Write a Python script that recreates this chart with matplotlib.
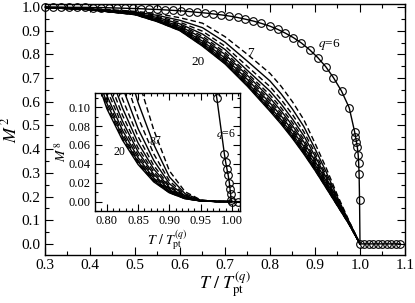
import matplotlib
matplotlib.use("Agg")
import matplotlib.pyplot as plt
from matplotlib.ticker import MultipleLocator, FormatStrFormatter
import numpy as np

plt.rcParams['font.family'] = ['Liberation Serif', 'DejaVu Serif']
plt.rcParams['mathtext.fontset'] = 'stix'

# ---- data ----
# q = 6 (circles)
T_q6 = [0.300, 0.318, 0.336, 0.353, 0.371, 0.389, 0.407, 0.425, 0.442, 0.460,
        0.478, 0.496, 0.514, 0.532, 0.549, 0.567, 0.585, 0.603, 0.621, 0.638,
        0.656, 0.674, 0.692, 0.710, 0.728, 0.745, 0.763, 0.781, 0.799, 0.817,
        0.834, 0.852, 0.870, 0.888, 0.906, 0.924, 0.941, 0.959, 0.976, 0.988,
        0.990, 0.992, 0.994, 0.996, 0.997, 0.998, 0.999, 1.000, 1.010, 1.020,
        1.030, 1.040, 1.050, 1.060, 1.070, 1.080, 1.090]
M2_q6 = [1.000, 1.000, 1.000, 0.999, 0.999, 0.999, 0.998, 0.998, 0.997, 0.996,
         0.995, 0.994, 0.993, 0.991, 0.990, 0.988, 0.986, 0.984, 0.981, 0.978,
         0.975, 0.971, 0.967, 0.962, 0.956, 0.949, 0.941, 0.931, 0.920, 0.906,
         0.890, 0.871, 0.848, 0.820, 0.787, 0.748, 0.702, 0.645, 0.575, 0.474,
         0.453, 0.432, 0.410, 0.376, 0.342, 0.295, 0.186, 0.000, 0.000, 0.000,
         0.000, 0.000, 0.000, 0.000, 0.000, 0.000, 0.000]

# q = 7 ... 20 (lines)
T_grid = [0.30, 0.40, 0.50, 0.55, 0.60, 0.65, 0.70, 0.75, 0.80, 0.825, 0.85,
          0.875, 0.90, 0.925, 0.95, 0.975, 1.00]
M2_q7  = [0.999, 0.995, 0.982, 0.972, 0.955, 0.932, 0.875, 0.800, 0.720, 0.665, 0.600, 0.525, 0.425, 0.320, 0.205, 0.100, 0.0]
M2_q8  = [0.999, 0.993, 0.979, 0.965, 0.944, 0.913, 0.852, 0.771, 0.688, 0.633, 0.569, 0.496, 0.402, 0.303, 0.196, 0.097, 0.0]
M2_q9  = [0.999, 0.992, 0.977, 0.960, 0.936, 0.898, 0.835, 0.749, 0.664, 0.609, 0.546, 0.474, 0.385, 0.290, 0.189, 0.095, 0.0]
M2_q10 = [0.999, 0.992, 0.975, 0.956, 0.929, 0.886, 0.821, 0.732, 0.645, 0.590, 0.527, 0.457, 0.371, 0.280, 0.184, 0.093, 0.0]
M2_q11 = [0.998, 0.991, 0.974, 0.953, 0.924, 0.877, 0.809, 0.720, 0.629, 0.574, 0.512, 0.442, 0.359, 0.272, 0.179, 0.091, 0.0]
M2_q12 = [0.998, 0.991, 0.973, 0.950, 0.919, 0.869, 0.800, 0.711, 0.616, 0.561, 0.499, 0.431, 0.350, 0.265, 0.176, 0.090, 0.0]
M2_q13 = [0.998, 0.990, 0.972, 0.948, 0.915, 0.862, 0.792, 0.702, 0.605, 0.550, 0.488, 0.421, 0.342, 0.259, 0.173, 0.089, 0.0]
M2_q14 = [0.998, 0.990, 0.971, 0.945, 0.912, 0.856, 0.785, 0.694, 0.595, 0.540, 0.479, 0.412, 0.335, 0.254, 0.170, 0.088, 0.0]
M2_q15 = [0.998, 0.990, 0.970, 0.944, 0.909, 0.851, 0.780, 0.687, 0.587, 0.532, 0.471, 0.405, 0.330, 0.249, 0.168, 0.088, 0.0]
M2_q16 = [0.998, 0.990, 0.970, 0.942, 0.907, 0.847, 0.774, 0.680, 0.579, 0.524, 0.464, 0.397, 0.324, 0.245, 0.165, 0.087, 0.0]
M2_q17 = [0.998, 0.989, 0.969, 0.941, 0.904, 0.843, 0.769, 0.675, 0.573, 0.518, 0.457, 0.392, 0.319, 0.242, 0.164, 0.086, 0.0]
M2_q18 = [0.998, 0.989, 0.969, 0.940, 0.903, 0.840, 0.766, 0.671, 0.568, 0.513, 0.453, 0.387, 0.316, 0.239, 0.162, 0.086, 0.0]
M2_q19 = [0.998, 0.989, 0.968, 0.939, 0.901, 0.837, 0.762, 0.668, 0.563, 0.508, 0.448, 0.383, 0.312, 0.237, 0.161, 0.085, 0.0]
M2_q20 = [0.998, 0.989, 0.968, 0.938, 0.900, 0.835, 0.760, 0.665, 0.560, 0.505, 0.445, 0.380, 0.310, 0.235, 0.160, 0.085, 0.0]

q_values = [7, 8, 9, 10, 11, 12, 13, 14, 15, 16, 17, 18, 19, 20]
M2_lines = [M2_q7, M2_q8, M2_q9, M2_q10, M2_q11, M2_q12, M2_q13,
            M2_q14, M2_q15, M2_q16, M2_q17, M2_q18, M2_q19, M2_q20]

x_ticks_main = [0.3, 0.4, 0.5, 0.6, 0.7, 0.8, 0.9, 1.0, 1.1]
y_ticks_main = [0.0, 0.1, 0.2, 0.3, 0.4, 0.5, 0.6, 0.7, 0.8, 0.9, 1.0]
x_ticks_inset = [0.80, 0.85, 0.90, 0.95, 1.00]
y_ticks_inset = [0.00, 0.02, 0.04, 0.06, 0.08, 0.10]

# ---- figure ----
fig = plt.figure(figsize=(4.15, 3.03), dpi=100)
ax = fig.add_axes([0.1084, 0.1584, 0.8675, 0.8284])
axi = fig.add_axes([0.2289, 0.3036, 0.3494, 0.3894])

dash = (0, (4, 2.2))

def style_axes(a, fs, major_len, minor_len):
    a.tick_params(which='both', direction='in', top=True, right=True,
                  labelsize=fs, width=0.8, pad=3)
    a.tick_params(which='major', length=major_len)
    a.tick_params(which='minor', length=minor_len)
    for s in a.spines.values():
        s.set_linewidth(1.0)

# main
for q, m2 in zip(q_values, M2_lines):
    ls = dash if q % 2 == 1 else '-'
    ax.plot(T_grid, m2, color='black', lw=1.0, linestyle=ls)
ax.plot(T_q6, M2_q6, color='black', lw=1.0, marker='o', ms=5.5,
        mfc='none', mec='black', mew=0.8, clip_on=False, zorder=5)

ax.set_xlim(0.3, 1.1)
ax.set_ylim(-0.047, 1.013)
ax.set_xticks(x_ticks_main)
ax.set_yticks(y_ticks_main)
ax.xaxis.set_minor_locator(MultipleLocator(0.05))
ax.yaxis.set_minor_locator(MultipleLocator(0.05))
ax.xaxis.set_major_formatter(FormatStrFormatter('%.1f'))
ax.yaxis.set_major_formatter(FormatStrFormatter('%.1f'))
style_axes(ax, 11, 6, 3)
ax.set_xlabel(r'$T\ /\ T_{\rm pt}^{(q)}$', fontsize=13, labelpad=-1)
ax.set_ylabel(r'$M^{\,2}$', fontsize=13, labelpad=1)

ax.text(0.907, 0.84, r'$q$=6', fontsize=9.5, ha='left', va='center')
ax.text(0.756, 0.806, '7', fontsize=9.5, ha='center', va='center')
ax.text(0.640, 0.768, '20', fontsize=9.5, ha='center', va='center')

# inset
for q, m2 in zip(q_values, M2_lines):
    ls = dash if q % 2 == 1 else '-'
    axi.plot(T_grid, np.array(m2) ** 4, color='black', lw=1.0, linestyle=ls)
axi.plot(T_q6, np.array(M2_q6) ** 4, color='black', lw=1.0, marker='o', ms=5.5,
         mfc='none', mec='black', mew=0.8, zorder=5)
axi.set_xlim(0.781, 1.013)
axi.set_ylim(-0.01, 0.115)
axi.set_xticks(x_ticks_inset)
axi.set_yticks(y_ticks_inset)
axi.xaxis.set_minor_locator(MultipleLocator(0.01))
axi.yaxis.set_minor_locator(MultipleLocator(0.01))
axi.xaxis.set_major_formatter(FormatStrFormatter('%.2f'))
axi.yaxis.set_major_formatter(FormatStrFormatter('%.2f'))
style_axes(axi, 9, 5, 2.5)
axi.set_xlabel(r'$T\ /\ T_{\rm pt}^{(q)}$', fontsize=10, labelpad=1)
axi.set_ylabel(r'$M^{\,8}$', fontsize=10, labelpad=0)
axi.text(0.991, 0.0716, r'$q$=6', fontsize=8.5, ha='center', va='center')
axi.text(0.873, 0.063, '8', fontsize=8.5, ha='center', va='center')
axi.text(0.881, 0.064, '7', fontsize=8.5, ha='center', va='center')
axi.text(0.820, 0.053, '20', fontsize=8.5, ha='center', va='center')

fig.savefig('out.png', dpi=100)
